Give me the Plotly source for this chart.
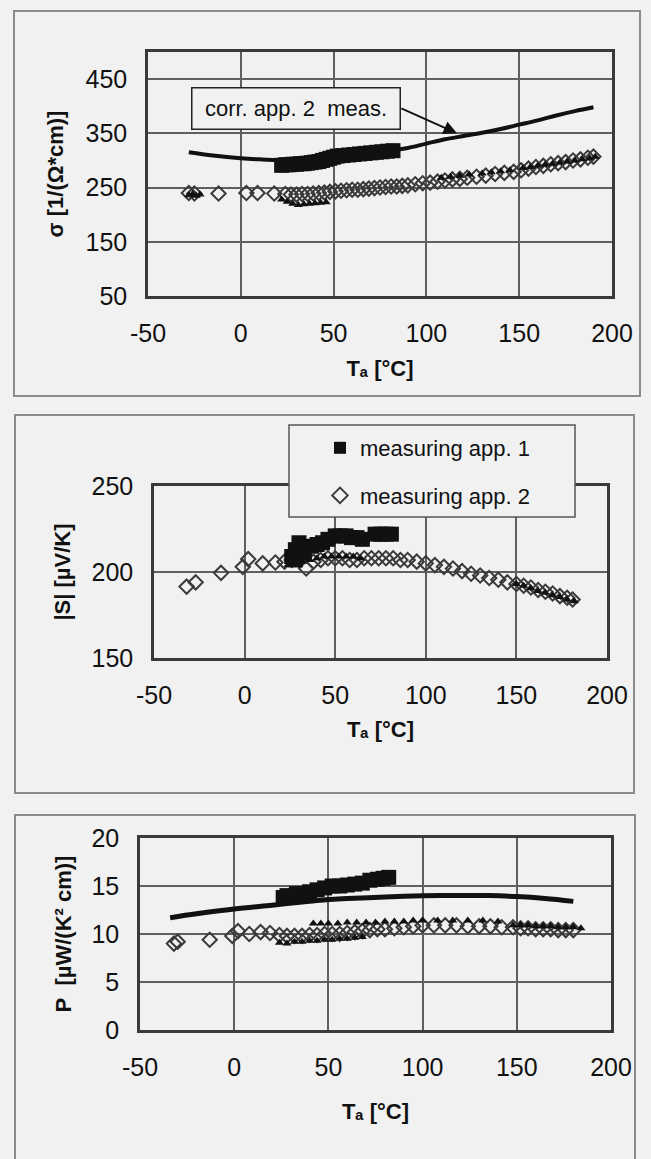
import plotly.graph_objects as go

# ---------------- data ----------------
# Panel 1: electrical conductivity sigma [1/(Ohm*cm)]
sig_corr_x = [-28, -15, 0, 10, 20, 30, 40, 50, 60, 70, 80, 90, 100, 110, 120, 130, 140, 150, 160, 170, 180, 190]
sig_corr_y = [315, 309, 304, 302, 301, 303, 307, 311, 313, 316, 318, 323, 331, 339, 345, 351, 358, 366, 374, 383, 391, 398]

sig_app1_x = [22, 24, 26, 28, 30, 32, 34, 36, 38, 40, 42, 44, 46, 48, 50, 52, 55, 58, 61, 64, 67, 70, 73, 76, 79, 82]
sig_app1_y = [291, 292, 292, 293, 293, 294, 294, 295, 296, 297, 298, 300, 302, 304, 306, 308, 309, 310, 311, 312, 313, 314, 315, 316, 317, 318]

sig_app2_x = [-28, -25, -12, 3, 9, 18, 24, 27, 30, 33, 36, 39, 42, 45, 48, 51, 54, 57, 60, 63, 66, 69, 72, 75, 78,
              81, 84, 87, 90, 94, 98, 102, 106, 110, 114, 118, 122, 127, 132, 137, 142, 147, 151, 155, 159, 163,
              167, 171, 175, 179, 183, 187, 190]
sig_app2_y = [240, 239, 239, 240, 240, 239, 238, 237, 237, 238, 238, 239, 240, 241, 242, 243, 244, 245, 246, 246,
              247, 248, 249, 250, 251, 252, 252, 253, 254, 256, 258, 259, 261, 263, 265, 266, 268, 270, 272, 275,
              277, 279, 282, 285, 288, 290, 293, 295, 297, 300, 302, 305, 307]

sig_app2b_x = [-28, -26, -24, -22, 22, 25, 28, 31, 34, 37, 40, 43, 46, 108, 113, 118, 123, 130, 135, 140, 145,
               152, 156, 160, 164, 168, 172, 176, 180, 184, 188, 191]
sig_app2b_y = [236, 238, 235, 237, 228, 224, 220, 218, 219, 220, 221, 222, 223, 268, 270, 272, 274, 276, 278, 280,
               282, 286, 288, 290, 292, 294, 296, 298, 300, 302, 304, 307]

# Panel 2: Seebeck coefficient |S| [uV/K]
s_app1_x = [26, 28, 30, 28, 33, 37, 40, 43, 46, 50, 53, 56, 59, 62, 65, 72, 75, 78, 81]
s_app1_y = [209, 213, 217, 207, 211, 215, 216, 217, 219, 221, 221, 221, 220, 220, 219, 222, 222, 222, 222]

s_app2_x = [-32, -27, -13, -1, 2, 10, 17, 22, 26, 30, 34, 38, 42, 46, 50, 54, 58, 62, 66, 70, 74, 78, 82, 86,
            90, 95, 100, 105, 110, 115, 120, 125, 130, 135, 140, 145, 150, 154, 158, 162, 166, 170, 174, 178, 181]
s_app2_y = [191.5, 194, 199.5, 203, 207.5, 205, 205.5, 206, 207, 207, 202, 206, 207, 208, 208, 208, 207, 207, 208,
            208, 208, 208, 208, 207, 207, 206, 205, 204, 203, 202, 200.5, 199, 198, 196.5, 195.5, 194, 193, 192,
            191, 189.5, 188.5, 187.5, 186, 185, 184]

s_app2b_x = [24, 28, 32, 36, 40, 44, 48, 52, 56, 60, 64, 150, 154, 158, 162, 166, 170, 174, 178, 182]
s_app2b_y = [204, 205, 206, 207, 208, 209, 209, 209, 209, 209, 208, 193, 192, 190.5, 189, 188, 186.5, 185.5, 184, 183]

# Panel 3: power factor P [uW/(K^2 cm)]
p_corr_x = [-34, -20, 0, 20, 40, 50, 60, 80, 95, 110, 120, 135, 150, 165, 180]
p_corr_y = [11.7, 12.1, 12.6, 13.0, 13.4, 13.6, 13.7, 13.85, 13.95, 14.0, 14.0, 14.0, 13.9, 13.7, 13.4]

p_app1_x = [26, 28, 30, 33, 36, 40, 44, 48, 52, 56, 60, 64, 68, 72, 76, 79, 82]
p_app1_y = [13.8, 14.0, 13.9, 14.2, 14.2, 14.4, 14.6, 14.8, 15.0, 15.0, 15.1, 15.2, 15.3, 15.6, 15.7, 15.8, 15.9]

p_app2_x = [-32, -30, -13, -1, 2, 8, 14, 19, 24, 28, 32, 36, 40, 44, 48, 52, 56, 60, 64, 68, 72, 76, 80, 85,
            90, 95, 100, 106, 112, 118, 124, 130, 136, 142, 148, 152, 156, 160, 164, 168, 172, 176, 180]
p_app2_y = [9.0, 9.2, 9.4, 9.8, 10.3, 10.0, 10.2, 10.1, 9.9, 9.8, 9.8, 9.8, 9.9, 9.9, 10.0, 10.0, 10.0, 10.1,
            10.2, 10.3, 10.4, 10.5, 10.5, 10.6, 10.7, 10.8, 10.9, 10.9, 10.9, 10.9, 10.8, 10.8, 10.8, 10.7, 10.7,
            10.6, 10.6, 10.5, 10.5, 10.5, 10.4, 10.4, 10.4]

p_app2b_x = [24, 28, 32, 36, 40, 44, 48, 52, 56, 60, 64, 68, 42, 46, 50, 55, 60, 65, 70, 75, 80, 85, 90, 95,
             100, 108, 116, 124, 132, 140, 148, 152, 156, 160, 164, 168, 172, 176, 180, 184]
p_app2b_y = [9.1, 9.0, 9.2, 9.2, 9.3, 9.3, 9.4, 9.4, 9.5, 9.5, 9.6, 9.7, 11.1, 11.1, 11.1, 11.1, 11.2, 11.2,
             11.2, 11.2, 11.3, 11.3, 11.3, 11.4, 11.4, 11.4, 11.4, 11.4, 11.4, 11.3, 10.9, 10.9, 10.9, 10.8,
             10.8, 10.8, 10.7, 10.7, 10.7, 10.6]

x_ticks = [-50, 0, 50, 100, 150, 200]
x_ticktext = ["-50", "0", "50", "100", "150", "200"]
sig_ticks = [50, 150, 250, 350, 450]
s_ticks = [150, 200, 250]
p_ticks = [0, 5, 10, 15, 20]

legend_app1 = "measuring app. 1"
legend_app2 = "measuring app. 2"
note_text = "corr. app. 2\u00a0\u00a0meas."
x_title = "T\u2090 [°C]"
sig_title = "σ [1/(Ω*cm)]"
s_title = "|S| [µV/K]"
p_title = "P\u00a0\u00a0[µW/(K² cm)]"

# ---------------- figure ----------------
W, H = 651, 1159
BG = "#f1f1f1"
FONT = "Liberation Sans, Arial, sans-serif"


def px(x):
    return x / W


def py(y):
    return 1 - y / H


fig = go.Figure()

sq = dict(symbol="square", size=15, color="#111111", line=dict(width=0))
dia = dict(symbol="diamond-open", size=11, color="#3a3a3a", line=dict(width=2, color="#3a3a3a"))
tri = dict(symbol="triangle-up", size=8, color="#111111", line=dict(width=0))

# panel 1
fig.add_trace(go.Scatter(x=sig_app2_x, y=sig_app2_y, mode="markers", marker=dia, showlegend=False, xaxis="x", yaxis="y"))
fig.add_trace(go.Scatter(x=sig_app2b_x, y=sig_app2b_y, mode="markers", marker=tri, showlegend=False, xaxis="x", yaxis="y"))
fig.add_trace(go.Scatter(x=sig_corr_x, y=sig_corr_y, mode="lines", line=dict(color="#111111", width=4),
                         line_shape="spline", showlegend=False, xaxis="x", yaxis="y"))
fig.add_trace(go.Scatter(x=sig_app1_x, y=sig_app1_y, mode="markers", marker=sq, showlegend=False, xaxis="x", yaxis="y"))

# panel 2
fig.add_trace(go.Scatter(x=s_app2_x, y=s_app2_y, mode="markers", marker=dia, name=legend_app2,
                         legendgroup="g2", legendrank=2, xaxis="x2", yaxis="y2"))
fig.add_trace(go.Scatter(x=s_app2b_x, y=s_app2b_y, mode="markers", marker=tri, showlegend=False, xaxis="x2", yaxis="y2"))
fig.add_trace(go.Scatter(x=s_app1_x, y=s_app1_y, mode="markers", marker=sq, name=legend_app1,
                         legendgroup="g1", legendrank=1, xaxis="x2", yaxis="y2"))

# panel 3
fig.add_trace(go.Scatter(x=p_app2_x, y=p_app2_y, mode="markers", marker=dia, showlegend=False, xaxis="x3", yaxis="y3"))
fig.add_trace(go.Scatter(x=p_app2b_x, y=p_app2b_y, mode="markers", marker=tri, showlegend=False, xaxis="x3", yaxis="y3"))
fig.add_trace(go.Scatter(x=p_corr_x, y=p_corr_y, mode="lines", line=dict(color="#111111", width=5),
                         line_shape="spline", showlegend=False, xaxis="x3", yaxis="y3"))
fig.add_trace(go.Scatter(x=p_app1_x, y=p_app1_y, mode="markers", marker=sq, showlegend=False, xaxis="x3", yaxis="y3"))

tickfont = dict(family=FONT, size=25, color="#111111")
titlefont = dict(family=FONT, size=22, color="#111111", weight="bold")
common_x = dict(range=[-50, 200], tickvals=x_ticks, ticktext=x_ticktext, showgrid=True, gridcolor="#5f5f5f",
                gridwidth=1.5, zeroline=False, showline=True, mirror=True, linecolor="#3a3a3a", linewidth=2.5,
                ticks="", tickfont=tickfont, ticklabelstandoff=13, automargin=False, fixedrange=True)
common_y = dict(showgrid=True, gridcolor="#5f5f5f", gridwidth=1.5, zeroline=False, showline=True, mirror=True,
                linecolor="#3a3a3a", linewidth=2.5, ticks="", tickfont=tickfont, ticklabelstandoff=13,
                automargin=False, fixedrange=True)

fig.update_layout(
    width=W, height=H,
    margin=dict(l=0, r=0, t=0, b=0),
    paper_bgcolor=BG, plot_bgcolor=BG,
    font=dict(family=FONT, color="#111111"),
    xaxis=dict(domain=[px(148), px(612)], anchor="y",
               title=dict(text=x_title, font=titlefont, standoff=15), **common_x),
    yaxis=dict(domain=[py(296), py(52)], anchor="x", range=[50, 500], tickvals=sig_ticks,
               title=dict(text=sig_title, font=titlefont, standoff=16), **common_y),
    xaxis2=dict(domain=[px(154), px(607)], anchor="y2",
                title=dict(text=x_title, font=titlefont, standoff=14), **common_x),
    yaxis2=dict(domain=[py(658), py(486)], anchor="x2", range=[150, 250], tickvals=s_ticks,
                title=dict(text=s_title, font=titlefont, standoff=15), **common_y),
    xaxis3=dict(domain=[px(140), px(611)], anchor="y3",
                title=dict(text=x_title, font=titlefont, standoff=24), **common_x),
    yaxis3=dict(domain=[py(1030), py(838)], anchor="x3", range=[0, 20], tickvals=p_ticks,
                title=dict(text=p_title, font=titlefont, standoff=14), **common_y),
    legend=dict(x=px(320), y=py(427), xanchor="left", yanchor="top", bgcolor="rgba(0,0,0,0)",
                borderwidth=0, font=dict(family=FONT, size=22, color="#111111"),
                traceorder="grouped", tracegroupgap=16, itemsizing="constant"),
    showlegend=True,
)

shapes = []
# outer chart-area frames
for (x0, y0, x1, y1) in [(14, 11, 640, 396), (15, 415, 634, 793), (15, 815, 635, 1175)]:
    shapes.append(dict(type="rect", xref="paper", yref="paper", x0=px(x0), y0=py(y0), x1=px(x1), y1=py(y1),
                       line=dict(color="#8c8c8c", width=2), fillcolor="rgba(0,0,0,0)", layer="below"))
# legend box in panel 2 (covers plot frame)
shapes.append(dict(type="rect", xref="paper", yref="paper", x0=px(289), y0=py(425), x1=px(575), y1=py(517),
                   line=dict(color="#555555", width=1.5), fillcolor=BG, layer="above"))
fig.update_layout(shapes=shapes)

# note box with arrow pointing to the correlated line (box sits left of the arrow tail)
fig.update_layout(annotations=[
    dict(text=note_text, x=116.5, y=350, xref="x", yref="y", ax=86.5, ay=396, axref="x", ayref="y",
         xanchor="right", yanchor="middle", showarrow=True, arrowhead=2, arrowsize=1.5, arrowwidth=1.8,
         arrowcolor="#111111", standoff=0,
         font=dict(family=FONT, size=22, color="#111111"), bgcolor=BG, bordercolor="#222222",
         borderwidth=1.5, borderpad=2, width=203, height=36, align="center", valign="middle"),
])

fig.write_html(
    "out.html",
    config={"displayModeBar": False},
    post_script="document.body.style.margin='0';document.body.style.overflow='hidden';",
)
